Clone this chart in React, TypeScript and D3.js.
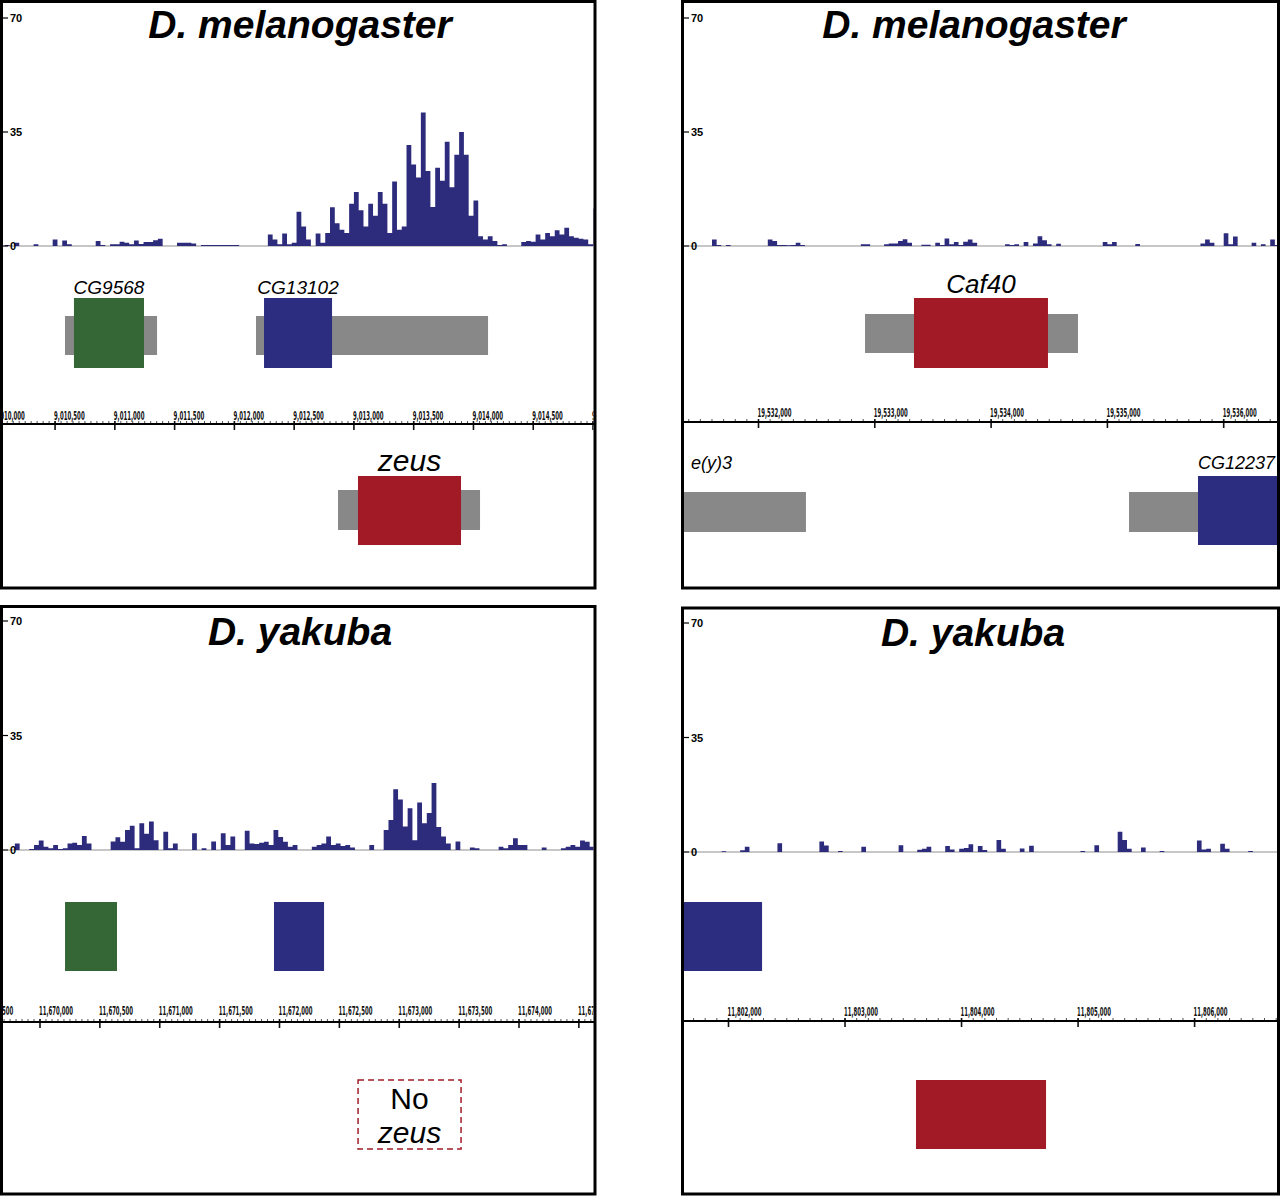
import * as d3 from 'd3'

// read coverage in 40 bp bins, values on the 0-70 read-depth scale
const BIN = 40
const yTicks = [0, 35, 70]

const melZeusStart = 9010040
const melZeusCoverage = [
  0, 0.3, 0, 1, 0, 0, 0, 0.5, 0, 0,
  0, 2, 0, 1.7, 0.5, 0, 0, 0, 0, 0,
  1.5, 0.3, 0, 0.5, 0.5, 1.3, 1, 0.5, 1.7, 0.6,
  1.2, 1.2, 1.8, 2.2, 0, 0, 0, 1, 1, 1,
  0.8, 0, 0.3, 0.3, 0.3, 0.3, 0.3, 0.3, 0.3, 0.3,
  0, 0, 0, 0, 0, 0, 3.5, 2, 0.5, 3.8,
  0.5, 1, 10.5, 6, 2, 0, 3.8, 1, 4, 11.9,
  7, 5, 4, 13, 16.6, 11, 6, 13, 9.3, 16.6,
  13, 4, 19.8, 5, 6, 31, 25, 21, 41, 23,
  12, 24, 20, 32, 18, 28, 35, 28, 9.3, 14,
  3, 2, 3, 1.5, 0.3, 0.5, 0, 0, 0, 1.2,
  1.5, 1.3, 3.5, 2, 4, 3, 4.8, 3.5, 5.6, 3,
  2.5, 2.2, 2, 0.5, 11.4,
]

const melCaf40Start = 19531360
const melCaf40Coverage = [
  0, 0, 0, 0, 0, 0, 2, 0.3, 0, 0.3,
  0, 0, 0, 0, 0, 0, 0, 0, 2, 1.5,
  0.3, 0.3, 0.2, 0.3, 1, 0.3, 0, 0, 0, 0,
  0, 0, 0, 0, 0, 0, 0, 0, 0.5, 0.5,
  0, 0, 0, 0.5, 0.8, 0.8, 1.5, 2.1, 1, 0,
  0, 0.4, 0.4, 0, 1, 0.3, 2.3, 0.5, 1.2, 0.3,
  1.3, 2, 1, 0, 0, 0, 0, 0, 0, 0.5,
  0.3, 0.5, 0, 1.2, 0, 0.8, 3, 1.8, 0.5, 0,
  0.7, 0, 0, 0, 0, 0, 0, 0, 0, 0,
  1.2, 0.5, 1.2, 0, 0, 0, 0, 0.6, 0, 0,
  0, 0, 0, 0, 0, 0, 0, 0, 0, 0,
  0, 0.8, 2, 1, 0, 0, 3.9, 0.5, 2.9, 0,
  0, 0, 1, 0, 0.5, 0, 2, 0.3,
]

const yakZeusStart = 11669670
const yakZeusCoverage = [
  0, 0, 0, 2, 0, 0, 0.3, 1.5, 2.9, 1,
  0.5, 1.5, 0.3, 0.5, 2, 2.2, 1.5, 4.3, 2, 0,
  0, 0, 0, 2.6, 3.9, 2.5, 6.1, 7.4, 0.5, 8.2,
  5, 8.7, 3, 0, 5.6, 0.5, 2, 0, 0, 0,
  5.1, 0, 0.5, 0, 2.6, 0, 5.1, 1.5, 4.1, 0,
  0, 5.9, 2, 1.8, 2.2, 2.5, 1.5, 6.1, 4, 2.5,
  1, 1.5, 0, 0, 0, 1, 1.5, 2, 4.1, 1.5,
  2, 1.2, 1.5, 0.8, 0, 0, 0, 1.5, 0, 0,
  6.1, 9.2, 18.6, 15.4, 7.2, 12.8, 3, 14.5, 8.2, 11.3,
  20.5, 7, 4.1, 2, 0, 2.6, 0, 0, 0.8, 0.5,
  0, 0, 0, 0, 1, 0.5, 1.5, 3.6, 1.5, 1.5,
  0, 0, 0, 0.8, 0, 0, 0, 0.5, 1, 1.5,
  1, 2.9, 2.5, 1,
]

const yakCaf40Start = 11801620
const yakCaf40Coverage = [
  0, 0, 0, 0, 0, 0, 0, 0, 0.2, 0,
  0, 0, 0.5, 1.6, 0, 0, 0, 0, 0, 0,
  2.7, 0, 0, 0, 0, 0, 0, 0, 0, 3.2,
  2, 0, 0, 0.3, 0, 0, 0, 0, 1.6, 0,
  0, 0, 0, 0, 0, 0, 2.1, 0, 0, 0,
  0.7, 1, 1.6, 0, 0, 0, 1.8, 0.8, 0, 1,
  1.2, 2.4, 0, 1.8, 0.6, 0, 0, 3.7, 1, 0,
  0, 0, 1.1, 0, 1.9, 0, 0, 0, 0, 0,
  0, 0, 0, 0, 0, 0.3, 0, 0, 2.1, 0,
  0, 0, 0, 6.2, 3.7, 1, 0, 0, 1.4, 0,
  0, 0, 0.3, 0, 0, 0, 0, 0, 0, 0,
  3.5, 0.8, 1, 0, 0, 2.5, 1, 0, 0, 0,
  0, 0.3, 0, 0, 0, 0, 0,
]

type Gene = { name: string; start: number; end: number; cdsStart?: number; cdsEnd?: number; missing?: boolean }

const melZeusUpperGenes: Gene[] = [
  { name: 'CG9568', start: 9010583, end: 9011353, cdsStart: 9010658, cdsEnd: 9011244 },
  { name: 'CG13102', start: 9012181, end: 9014122, cdsStart: 9012248, cdsEnd: 9012817 },
]
const melZeusLowerGenes: Gene[] = [
  { name: 'zeus', start: 9012867, end: 9014055, cdsStart: 9013034, cdsEnd: 9013896 },
]
const melCaf40UpperGenes: Gene[] = [
  { name: 'Caf40', start: 19532916, end: 19534747, cdsStart: 19533337, cdsEnd: 19534489 },
]
const melCaf40LowerGenes: Gene[] = [
  { name: 'e(y)3', start: 19531100, end: 19532408 },
  { name: 'CG12237', start: 19535186, end: 19536900, cdsStart: 19535779, cdsEnd: 19536900 },
]
const yakZeusUpperGenes: Gene[] = [
  { name: 'CG9568', start: 11670209, end: 11670643, cdsStart: 11670209, cdsEnd: 11670643 },
  { name: 'CG13102', start: 11671954, end: 11672372, cdsStart: 11671954, cdsEnd: 11672372 },
]
const yakZeusLowerGenes: Gene[] = [
  { name: 'zeus', start: 11672656, end: 11673516, missing: true },
]
const yakCaf40UpperGenes: Gene[] = [
  { name: 'CG12237', start: 11801400, end: 11802288, cdsStart: 11801400, cdsEnd: 11802288 },
]
const yakCaf40LowerGenes: Gene[] = [
  { name: 'Caf40', start: 11803609, end: 11804725, cdsStart: 11803609, cdsEnd: 11804725 },
]

const geneColors: Record<string, string> = {
  CG9568: '#356635',
  CG13102: '#2c2d80',
  CG12237: '#2c2d80',
  zeus: '#a11a26',
  Caf40: '#a11a26',
}

const FONT = '"Liberation Sans", Arial, Helvetica, sans-serif'
const TRACK = '#2d2b7c'
const UTR = '#888888'

type Row = {
  genes: Gene[]
  cds: [number, number]
  utr: [number, number]
  labelSize?: number
  labelY?: number
}

type PanelCfg = {
  id: string
  title: string
  titleX: number
  titleY: number
  box: [number, number, number, number]
  domain: [number, number]
  range: [number, number]
  yRange: [number, number]
  covStart: number
  coverage: number[]
  rulerY: number
  labelY: number
  major: number
  minor: number
  rows: Row[]
}

const panels: PanelCfg[] = [
  {
    id: 'tl', title: 'D. melanogaster', titleX: 300, titleY: 38,
    box: [1.5, 1.5, 595, 588],
    domain: [9010000, 9015000], range: [-4.7, 593],
    yRange: [246, 18],
    covStart: melZeusStart, coverage: melZeusCoverage,
    rulerY: 424, labelY: 420, major: 500, minor: 50,
    rows: [
      { genes: melZeusUpperGenes, cds: [298, 368], utr: [316, 355], labelSize: 19, labelY: 294 },
      { genes: melZeusLowerGenes, cds: [476, 545], utr: [490, 530], labelSize: 30, labelY: 471 },
    ],
  },
  {
    id: 'tr', title: 'D. melanogaster', titleX: 974, titleY: 38,
    box: [682.5, 1.5, 1278.5, 588],
    domain: [19532000, 19536000], range: [758.5, 1223.7],
    yRange: [246, 18],
    covStart: melCaf40Start, coverage: melCaf40Coverage,
    rulerY: 422, labelY: 417, major: 1000, minor: 100,
    rows: [
      { genes: melCaf40UpperGenes, cds: [298, 368], utr: [314, 353], labelSize: 26, labelY: 293 },
      { genes: melCaf40LowerGenes, cds: [476, 545], utr: [492, 532], labelSize: 18, labelY: 469 },
    ],
  },
  {
    id: 'bl', title: 'D. yakuba', titleX: 300, titleY: 645,
    box: [1.5, 606.5, 595, 1194],
    domain: [11670000, 11674000], range: [40, 519],
    yRange: [850, 621],
    covStart: yakZeusStart, coverage: yakZeusCoverage,
    rulerY: 1022, labelY: 1015, major: 500, minor: 50,
    rows: [
      { genes: yakZeusUpperGenes, cds: [902, 971], utr: [902, 971] },
      { genes: yakZeusLowerGenes, cds: [1080, 1149], utr: [1080, 1149] },
    ],
  },
  {
    id: 'br', title: 'D. yakuba', titleX: 973, titleY: 646,
    box: [682.5, 608, 1278.5, 1194],
    domain: [11802000, 11806000], range: [728.5, 1194.6],
    yRange: [852, 623],
    covStart: yakCaf40Start, coverage: yakCaf40Coverage,
    rulerY: 1021, labelY: 1016, major: 1000, minor: 100,
    rows: [
      { genes: yakCaf40UpperGenes, cds: [902, 971], utr: [902, 971] },
      { genes: yakCaf40LowerGenes, cds: [1080, 1149], utr: [1080, 1149] },
    ],
  },
]

function Panel({ cfg }: { cfg: PanelCfg }) {
  const [left, top, right, bottom] = cfg.box
  const x0 = left + 1.5
  const x1 = right - 1.5
  const x = d3.scaleLinear().domain(cfg.domain).range(cfg.range)
  const y = d3.scaleLinear().domain([0, 70]).range(cfg.yRange)
  const clipId = `clip-${cfg.id}`
  const fmt = d3.format(',')

  // one step per bin, like the genome browser's bar rendering
  const n = cfg.coverage.length
  const pts: [number, number][] = cfg.coverage.map((v, i) => [cfg.covStart + i * BIN, v])
  pts.push([cfg.covStart + n * BIN, cfg.coverage[n - 1]])
  const area = d3.area<[number, number]>()
    .x(d => x(d[0]))
    .y0(y(0))
    .y1(d => y(d[1]))
    .curve(d3.curveStepAfter)

  const vis0 = x.invert(x0)
  const vis1 = x.invert(x1)
  const minorTicks = d3.range(Math.ceil(vis0 / cfg.minor) * cfg.minor, vis1 + 1, cfg.minor)
  const majorTicks = d3.range(Math.floor(vis0 / cfg.major) * cfg.major, vis1 + cfg.major, cfg.major)

  const cx = (g: Gene) => {
    const a = Math.max(x(g.cdsStart ?? g.start), x0)
    const b = Math.min(x(g.cdsEnd ?? g.end), x1)
    return (a + b) / 2
  }

  return (
    <g>
      <defs>
        <clipPath id={clipId}>
          <rect x={x0} y={top + 1.5} width={x1 - x0} height={bottom - top - 3} />
        </clipPath>
      </defs>

      <g clipPath={`url(#${clipId})`}>
        {/* coverage track */}
        <line x1={x0 + 5} x2={x1} y1={y(0)} y2={y(0)} stroke="#8f8f8f" strokeWidth={1} />
        <path d={area(pts) ?? ''} fill={TRACK} />

        {/* genes */}
        {cfg.rows.map((row, ri) => (
          <g key={ri}>
            {row.genes.map(g => {
              if (g.missing) {
                const mx = (x(g.start) + x(g.end)) / 2
                return (
                  <g key={g.name}>
                    <rect x={x(g.start)} y={row.cds[0]} width={x(g.end) - x(g.start)} height={row.cds[1] - row.cds[0]}
                      fill="none" stroke={geneColors[g.name]} strokeWidth={1.5} strokeDasharray="6,4" />
                    <text x={mx} y={row.cds[0] + 29} textAnchor="middle"
                      fontFamily={FONT} fontSize={30}>No</text>
                    <text x={mx} y={row.cds[0] + 63} textAnchor="middle"
                      fontFamily={FONT} fontSize={30} fontStyle="italic">{g.name}</text>
                  </g>
                )
              }
              const hasCds = g.cdsStart != null && g.cdsEnd != null
              const isUtr = hasCds && (g.cdsStart !== g.start || g.cdsEnd !== g.end)
              let anchor: 'start' | 'middle' | 'end' = 'middle'
              let lx = cx(g)
              if (x(g.start) < x0) { anchor = 'start'; lx = x0 + 7 }
              else if (x(g.end) > x1) { anchor = 'end'; lx = x1 - 2 }
              return (
                <g key={g.name}>
                  {(!hasCds || isUtr) && (
                    <rect x={x(g.start)} y={row.utr[0]} width={x(g.end) - x(g.start)}
                      height={row.utr[1] - row.utr[0]} fill={UTR} />
                  )}
                  {hasCds && (
                    <rect x={x(g.cdsStart!)} y={row.cds[0]} width={x(g.cdsEnd!) - x(g.cdsStart!)}
                      height={row.cds[1] - row.cds[0]} fill={geneColors[g.name]} />
                  )}
                  {row.labelSize && (
                    <text x={lx} y={row.labelY} textAnchor={anchor} fontFamily={FONT}
                      fontSize={row.labelSize} fontStyle="italic">{g.name}</text>
                  )}
                </g>
              )
            })}
          </g>
        ))}

        {/* ruler */}
        {minorTicks.map(t => (
          <line key={`m${t}`} x1={x(t)} x2={x(t)} y1={cfg.rulerY - 3} y2={cfg.rulerY} stroke="#222" strokeWidth={0.8} />
        ))}
        {majorTicks.map(t => {
          const label = fmt(t)
          return (
            <g key={`M${t}`}>
              <line x1={x(t)} x2={x(t)} y1={cfg.rulerY - 3} y2={cfg.rulerY + 6} stroke="#111" strokeWidth={1.6} />
              <text x={x(t) - 1} y={cfg.labelY} fontFamily='"DejaVu Sans Condensed", "DejaVu Sans", sans-serif'
                fontWeight="bold" fontSize={13} fill="#111" textLength={label.length * 3.4}
                lengthAdjust="spacingAndGlyphs">{label}</text>
            </g>
          )
        })}
      </g>

      <line x1={left} x2={right} y1={cfg.rulerY} y2={cfg.rulerY} stroke="#000" strokeWidth={2} />

      {/* y axis */}
      {yTicks.map(t => (
        <g key={t}>
          <line x1={x0} x2={x0 + 5} y1={y(t)} y2={y(t)} stroke="#000" strokeWidth={1.2} />
          <text x={x0 + 7} y={y(t) + 4} fontFamily={FONT} fontWeight="bold" fontSize={11}>{t}</text>
        </g>
      ))}

      <text x={cfg.titleX} y={cfg.titleY} textAnchor="middle" fontFamily={FONT}
        fontWeight="bold" fontStyle="italic" fontSize={39}>{cfg.title}</text>

      <rect x={left} y={top} width={right - left} height={bottom - top} fill="none" stroke="#000" strokeWidth={3} />
    </g>
  )
}

export default function App() {
  return (
    <div style={{ position: 'absolute', left: 0, top: 0 }}>
      <svg width={1280} height={1197} style={{ display: 'block', background: '#fff' }}>
        {panels.map(p => <Panel key={p.id} cfg={p} />)}
      </svg>
    </div>
  )
}
